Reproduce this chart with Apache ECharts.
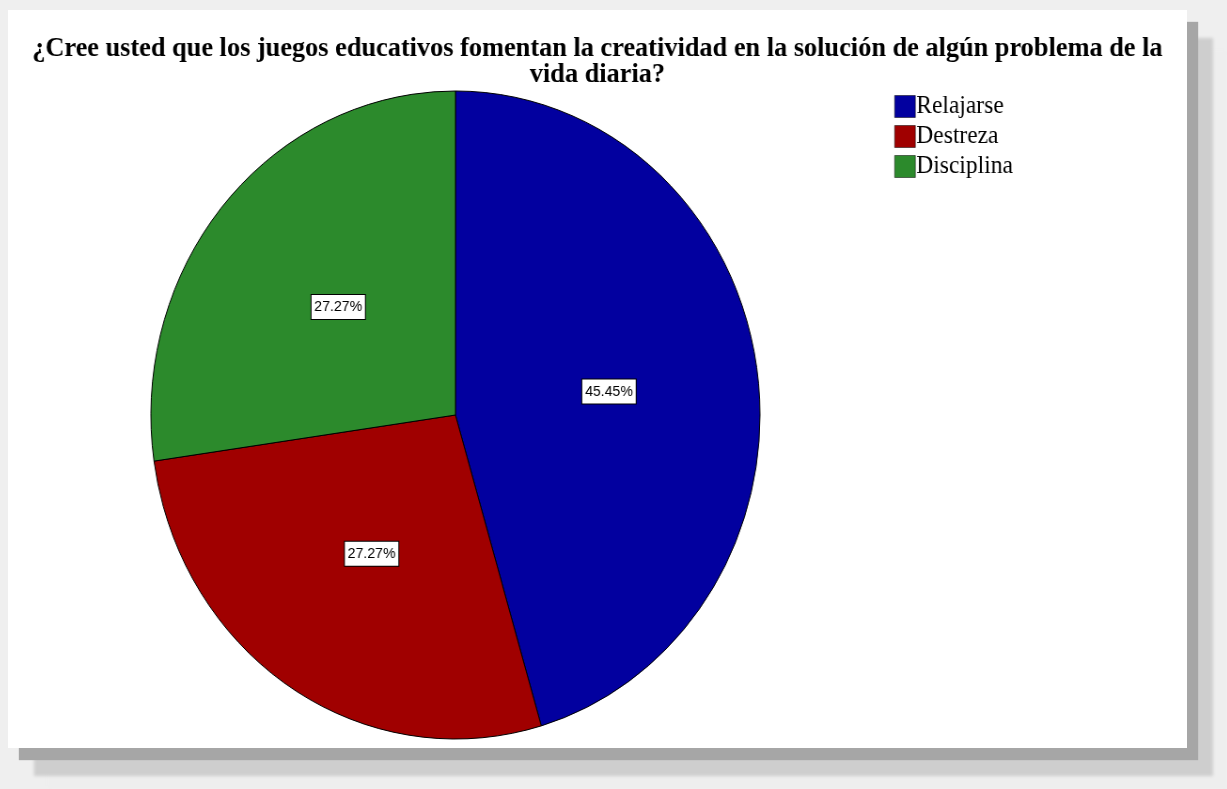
<!DOCTYPE html>
<html>
<head>
<meta charset="utf-8">
<script src="https://cdn.jsdelivr.net/npm/echarts@6/dist/echarts.min.js"></script>
<style>
  html, body { margin: 0; padding: 0; background: #efefef; width: 1227px; height: 789px; overflow: hidden; }
  #panel {
    position: absolute; left: 8px; top: 10px; width: 1179px; height: 738px;
    background: #ffffff; overflow: hidden;
    box-shadow: 11px 12px 1px 0 #a6a6a6, 26px 28px 3px 0 #cecece, 40px 41px 4px 0 #eeeeee;
  }
  /* the chart is drawn on a wider canvas and condensed horizontally */
  #chart {
    position: absolute; left: 0; top: 0; width: 1254px; height: 738px;
    transform: scaleX(0.94); transform-origin: 0 0;
  }
</style>
</head>
<body>
<div id="panel"><div id="chart"></div></div>
<script>
const titleText = '¿Cree usted que los juegos educativos fomentan la creatividad en la solución de algún problema de la\nvida diaria?';
const categories = ['Relajarse', 'Destreza', 'Disciplina'];
const percentages = [45.45, 27.27, 27.27];
const sliceColors = ['#02009f', '#a00000', '#2c8a2c'];

const chart = echarts.init(document.getElementById('chart'), null, { renderer: 'canvas' });

chart.setOption({
  animation: false,
  backgroundColor: '#ffffff',
  color: sliceColors,
  title: {
    text: titleText,
    left: 'center',
    top: 21,
    textStyle: {
      fontFamily: '"Liberation Serif", "DejaVu Serif", serif',
      fontWeight: 'bold',
      fontSize: 28,
      lineHeight: 26,
      color: '#000000',
      align: 'center'
    }
  },
  legend: {
    orient: 'vertical',
    left: 938,
    top: 79,
    itemWidth: 22,
    itemHeight: 22,
    itemGap: 5,
    icon: 'rect',
    data: categories,
    itemStyle: { borderColor: '#000000', borderWidth: 0.5 },
    textStyle: {
      fontFamily: '"Liberation Serif", "DejaVu Serif", serif',
      fontSize: 25,
      color: '#000000',
      padding: [0, 0, 0, -4]
    }
  },
  series: [{
    type: 'pie',
    center: [476, 405],
    radius: [0, 324],
    startAngle: 90,
    clockwise: true,
    data: categories.map((name, i) => ({ name, value: percentages[i] })),
    itemStyle: { borderColor: '#000000', borderWidth: 1 },
    emphasis: { disabled: true },
    label: {
      show: true,
      position: 'inside',
      formatter: p => p.value.toFixed(2) + '%',
      fontFamily: '"Liberation Sans", Arial, sans-serif',
      fontSize: 15,
      color: '#000000',
      backgroundColor: '#ffffff',
      borderColor: '#000000',
      borderWidth: 1,
      padding: [5, 3, 4, 3]
    },
    labelLine: { show: false }
  }]
});
</script>
</body>
</html>
